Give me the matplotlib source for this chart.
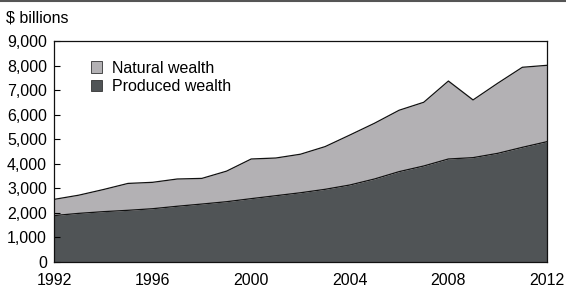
import numpy as np
import matplotlib.pyplot as plt
from matplotlib.patches import Patch

plt.rcParams['font.family'] = ['Liberation Sans', 'DejaVu Sans']

years = list(range(1992, 2013))
produced = [1890, 1980, 2050, 2105, 2170, 2270, 2360, 2455, 2580, 2700, 2820,
            2960, 3135, 3380, 3680, 3910, 4195, 4250, 4425, 4670, 4900]
total = [2550, 2720, 2950, 3200, 3245, 3380, 3405, 3700, 4195, 4235, 4390,
         4700, 5170, 5650, 6180, 6505, 7370, 6600, 7280, 7930, 8010]
natural = [t - p for t, p in zip(total, produced)]

dark = '#505456'
light = '#b3b1b4'

fig = plt.figure(figsize=(5.66, 2.89), dpi=100)
ax = fig.add_axes([54 / 566, 27 / 289, 493 / 566, 221 / 289])

ax.fill_between(years, 0, produced, color=dark, lw=0)
ax.fill_between(years, produced, total, color=light, lw=0)
ax.plot(years, produced, color='#111111', lw=0.9)
ax.plot(years, total, color='#111111', lw=0.9)

ax.set_xlim(1992, 2012)
ax.set_ylim(0, 9000)
ax.set_yticks(np.arange(0, 9001, 1000))
ax.set_yticklabels([f'{v:,}' for v in range(0, 9001, 1000)])
ax.set_xticks([1992, 1996, 2000, 2004, 2008, 2012])
ax.tick_params(axis='y', direction='in', length=4, width=0.8, labelsize=11.5, pad=5)
ax.tick_params(axis='x', length=0, labelsize=11.5, pad=8)
for s in ax.spines.values():
    s.set_linewidth(0.9)
    s.set_color('#111111')

fig.text(6 / 566, 1 - 18 / 289, '$ billions', fontsize=11.5, va='center', ha='left')
fig.add_artist(plt.Line2D([0, 1], [1 - 1 / 289, 1 - 1 / 289], color='#555555', lw=1.5,
                          transform=fig.transFigure))

handles = [Patch(facecolor=light, edgecolor='#333333', lw=0.6, label='Natural wealth'),
           Patch(facecolor=dark, edgecolor='#333333', lw=0.6, label='Produced wealth')]
ax.legend(handles=handles, loc='upper left', bbox_to_anchor=(0.062, 0.94), frameon=False,
          fontsize=11.5, handlelength=0.7, handleheight=0.7, handletextpad=0.6,
          labelspacing=0.2, borderaxespad=0)

fig.savefig('out.png', dpi=100)
